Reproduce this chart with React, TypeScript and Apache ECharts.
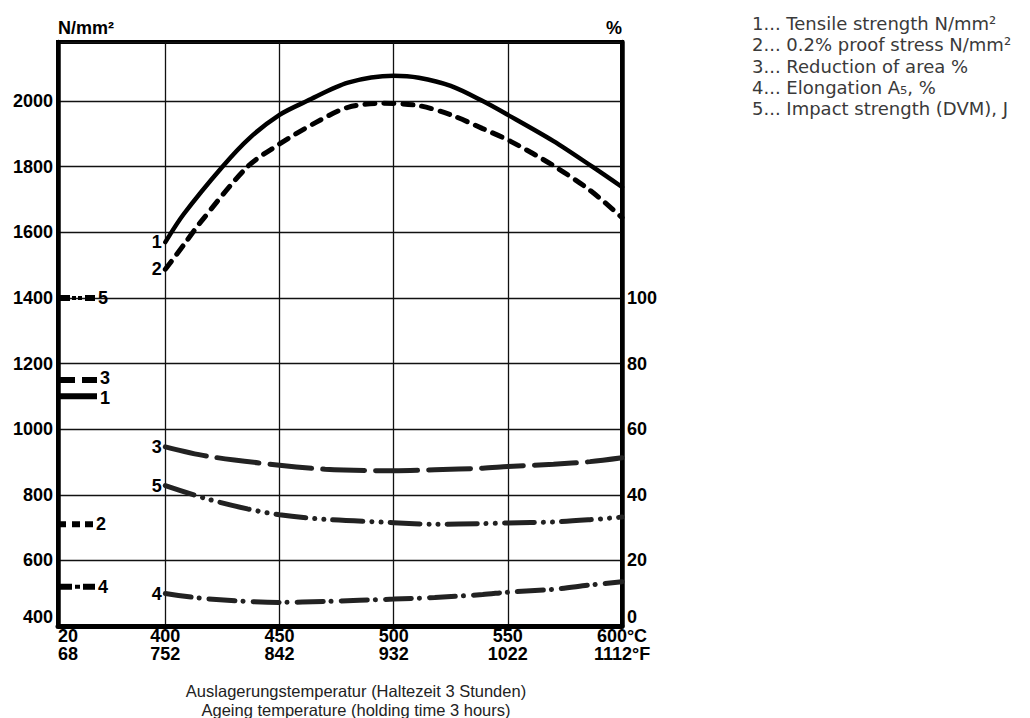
import React, { useEffect, useRef } from "react";
import * as echarts from "echarts";

// ---------- data ----------
const ROOM_TEMP_C = 20;
const ROOM_TEMP_F = 68;
// axis position at which the (broken-axis) 20 °C column is drawn
const X_AXIS_START = 353;
const X_AXIS_END = 600;
const X_TICKS_C = [400, 450, 500, 550, 600];
const X_TICKS_F = [752, 842, 932, 1022, 1112];

// 1 – Tensile strength, N/mm²
const T_TENSILE = [400, 408, 425, 437, 450, 462, 480, 500, 511, 525, 539, 550, 570, 587, 600];
const V_TENSILE = [1570, 1655, 1800, 1888, 1958, 2000, 2056, 2077, 2071, 2046, 2000, 1958, 1878, 1800, 1738];
// 2 – 0.2 % proof stress, N/mm²
const T_PROOF = [400, 408, 415, 436, 450, 466, 480, 495, 511, 525, 539, 551, 570, 586, 600];
const V_PROOF = [1487, 1561, 1627, 1800, 1869, 1935, 1981, 1993, 1986, 1958, 1916, 1878, 1803, 1728, 1645];
// 3 – Reduction of area, %
const T_REDUCTION = [400, 418, 450, 470, 500, 518, 539, 550, 570, 586, 600];
const V_REDUCTION = [54.6, 51.8, 49.0, 47.8, 47.3, 47.6, 48.1, 48.6, 49.3, 50.1, 51.3];
// 4 – Elongation A5, %
const T_ELONG = [400, 418, 450, 470, 500, 518, 539, 550, 570, 586, 600];
const V_ELONG = [9.9, 8.3, 7.2, 7.5, 8.2, 8.7, 9.6, 10.3, 11.2, 12.5, 13.5];
// 5 – Impact strength (DVM), J
const T_IMPACT = [400, 418, 436, 450, 470, 500, 518, 539, 550, 570, 586, 600];
const V_IMPACT = [42.8, 38.8, 35.7, 33.9, 32.5, 31.5, 31.0, 31.2, 31.4, 31.7, 32.4, 33.2];

// values at room temperature (20 °C)
const RT_TENSILE = 1100;
const RT_PROOF = 710;
const RT_REDUCTION = 75;
const RT_ELONG = 12;
const RT_IMPACT = 100;

const LEFT_MIN = 400;
const LEFT_MAX = 2180;
const LEFT_INTERVAL = 200;
const LEFT_LABEL_MAX = 2000;
const RIGHT_MIN = 0;
const RIGHT_MAX = 178;
const RIGHT_INTERVAL = 20;
const RIGHT_LABEL_MAX = 100;

const LEGEND_LINES = [
  "1... Tensile strength N/mm²",
  "2... 0.2% proof stress N/mm²",
  "3... Reduction of area %",
  "4... Elongation A₅, %",
  "5... Impact strength (DVM), J",
];
const X_TITLE_LINES = [
  "Auslagerungstemperatur (Haltezeit 3 Stunden)",
  "Ageing temperature (holding time 3 hours)",
];

// ---------- helpers ----------
const zip = (xs: number[], ys: number[]) => xs.map((x, i) => [x, ys[i]]);
const BOLD = "Liberation Sans, Arial, Helvetica, sans-serif";

const SYM_SOLID = "path://M0,0H37V6H0Z";
const SYM_LONGDASH = "path://M0,0H15V6H0Z M22,0H37V6H22Z";
const SYM_DOTTED = "path://M0,0H6V6H0Z M12,0H20V6H12Z M25,0H33V6H25Z";
const SYM_DASHDOT = "path://M0,0H12V6H0Z M15,1H20V5H15Z M23,0H35V6H23Z";
const SYM_DASHDOTDOT = "path://M0,0H10V6H0Z M12,1H16V5H12Z M18,1H22V5H18Z M25,0H35V6H25Z";

const boldLabel = { fontFamily: BOLD, fontWeight: "bold" as const, fontSize: 18, color: "#000" };

function rtMarker(
  name: string,
  yAxisIndex: number,
  value: number,
  symbol: string,
  w: number,
  tag: string,
  labelShiftY = 0
) {
  return {
    name,
    type: "scatter",
    yAxisIndex,
    clip: false,
    z: 5,
    symbol,
    symbolSize: [w, 6],
    symbolOffset: [w / 2 + 2, 0],
    itemStyle: { color: "#000", opacity: 1 },
    label: {
      show: true,
      position: "right",
      distance: 3,
      offset: [0, labelShiftY],
      formatter: tag,
      ...boldLabel,
    },
    data: [[X_AXIS_START, value]],
  };
}

function curveTags(yAxisIndex: number, items: [number[], number[], string][]) {
  return {
    type: "scatter",
    yAxisIndex,
    clip: false,
    symbol: "rect",
    symbolSize: 1,
    itemStyle: { color: "rgba(0,0,0,0)", opacity: 1 },
    label: {
      show: true,
      position: "left",
      distance: 3,
      formatter: (p: any) => p.data[2],
      ...boldLabel,
    },
    data: items.map(([t, v, tag]) => [t[0], v[0], tag]),
  };
}

const xLabel = (v: number) => {
  if (Math.abs(v - X_AXIS_START) < 0.5) return `${ROOM_TEMP_C}\n${ROOM_TEMP_F}`;
  const i = X_TICKS_C.indexOf(Math.round(v));
  if (i < 0) return "";
  return i === X_TICKS_C.length - 1
    ? `${X_TICKS_C[i]}°C\n${X_TICKS_F[i]}°F`
    : `${X_TICKS_C[i]}\n${X_TICKS_F[i]}`;
};

export default function App() {
  const ref = useRef<HTMLDivElement>(null);

  useEffect(() => {
    if (!ref.current) return;
    const chart = echarts.init(ref.current, undefined, { renderer: "svg" });
    const gridLine = { show: true, lineStyle: { color: "#111", width: 1.3 } };

    const legendText = {
      type: "text",
      left: 752,
      top: 13,
      style: {
        text: LEGEND_LINES.join("\n"),
        fontFamily: "DejaVu Sans, sans-serif",
        fontSize: 18,
        lineHeight: 21.3,
        fill: "#3a3a3a",
      },
    };
    const titleText = {
      type: "text",
      x: 356,
      y: 700.3,
      style: {
        text: X_TITLE_LINES.join("\n"),
        fontFamily: "Liberation Sans, Arial, sans-serif",
        fontSize: 16.5,
        lineHeight: 18.6,
        fill: "#222",
        align: "center",
        verticalAlign: "middle",
      },
    };

    chart.setOption({
      animation: false,
      backgroundColor: "#fff",
      grid: {
        left: 58,
        right: 408,
        top: 42,
        bottom: 92,
        show: true,
        borderColor: "#000",
        borderWidth: 4,
        outerBoundsMode: "none",
      },
      xAxis: {
        type: "value",
        min: X_AXIS_START,
        max: X_AXIS_END,
        axisLine: { show: true, lineStyle: { color: "#000", width: 5 } },
        axisTick: { show: false, customValues: [X_AXIS_START, ...X_TICKS_C] },
        axisLabel: {
          customValues: [X_AXIS_START, ...X_TICKS_C],
          formatter: xLabel,
          ...boldLabel,
          lineHeight: 18,
          margin: 1,
          alignMinLabel: "left",
          alignMaxLabel: "center",
        },
        splitLine: gridLine,
      },
      yAxis: [
        {
          type: "value",
          position: "left",
          min: LEFT_MIN,
          max: LEFT_MAX,
          interval: LEFT_INTERVAL,
          name: "N/mm²",
          nameLocation: "end",
          nameGap: 5,
          nameTextStyle: { ...boldLabel, align: "left", verticalAlign: "bottom" },
          axisLine: { show: true, lineStyle: { color: "#000", width: 4.5 } },
          axisTick: { show: false },
          axisLabel: {
            ...boldLabel,
            margin: 5,
            showMaxLabel: false,
            verticalAlignMinLabel: "bottom",
            formatter: (v: number) => (v <= LEFT_LABEL_MAX ? String(v) : ""),
          },
          splitLine: gridLine,
        },
        {
          type: "value",
          position: "right",
          min: RIGHT_MIN,
          max: RIGHT_MAX,
          interval: RIGHT_INTERVAL,
          name: "%",
          nameLocation: "end",
          nameGap: 5,
          nameTextStyle: { ...boldLabel, align: "right", verticalAlign: "bottom" },
          axisLine: { show: true, lineStyle: { color: "#000", width: 4.5 } },
          axisTick: { show: false },
          axisLabel: {
            ...boldLabel,
            margin: 5,
            verticalAlignMinLabel: "bottom",
            formatter: (v: number) => (v <= RIGHT_LABEL_MAX ? String(v) : ""),
          },
          splitLine: { show: false },
        },
      ],
      series: [
        {
          name: "Tensile strength",
          type: "line",
          yAxisIndex: 0,
          smooth: 0.3,
          showSymbol: false,
          lineStyle: { color: "#000", width: 4.5, cap: "round" },
          data: zip(T_TENSILE, V_TENSILE),
        },
        {
          name: "0.2% proof stress",
          type: "line",
          yAxisIndex: 0,
          smooth: 0.3,
          showSymbol: false,
          lineStyle: { color: "#000", width: 5, type: [10, 9], cap: "round" },
          data: zip(T_PROOF, V_PROOF),
        },
        {
          name: "Reduction of area",
          type: "line",
          yAxisIndex: 1,
          smooth: 0.3,
          showSymbol: false,
          lineStyle: { color: "#222", width: 5, type: [42, 11], cap: "round" },
          data: zip(T_REDUCTION, V_REDUCTION),
        },
        {
          name: "Elongation",
          type: "line",
          yAxisIndex: 1,
          smooth: 0.3,
          showSymbol: false,
          lineStyle: { color: "#222", width: 5, type: [26, 8, 0.1, 10], cap: "round" },
          data: zip(T_ELONG, V_ELONG),
        },
        {
          name: "Impact strength",
          type: "line",
          yAxisIndex: 1,
          smooth: 0.3,
          showSymbol: false,
          lineStyle: { color: "#222", width: 5, type: [30, 9, 0.1, 9, 0.1, 9], cap: "round" },
          data: zip(T_IMPACT, V_IMPACT),
        },
        curveTags(0, [
          [T_TENSILE, V_TENSILE, "1"],
          [T_PROOF, V_PROOF, "2"],
        ]),
        curveTags(1, [
          [T_REDUCTION, V_REDUCTION, "3"],
          [T_IMPACT, V_IMPACT, "5"],
          [T_ELONG, V_ELONG, "4"],
        ]),
        rtMarker("RT tensile", 0, RT_TENSILE, SYM_SOLID, 37, "1", 2),
        rtMarker("RT proof", 0, RT_PROOF, SYM_DOTTED, 33, "2"),
        rtMarker("RT reduction", 1, RT_REDUCTION, SYM_LONGDASH, 37, "3", -2),
        rtMarker("RT elongation", 1, RT_ELONG, SYM_DASHDOT, 35, "4"),
        rtMarker("RT impact", 1, RT_IMPACT, SYM_DASHDOTDOT, 35, "5"),
      ],
      graphic: [legendText, titleText],
    });

    return () => chart.dispose();
  }, []);

  return (
    <div
      ref={ref}
      style={{ position: "absolute", left: 0, top: 0, width: 1030, height: 718, background: "#fff" }}
    />
  );
}
